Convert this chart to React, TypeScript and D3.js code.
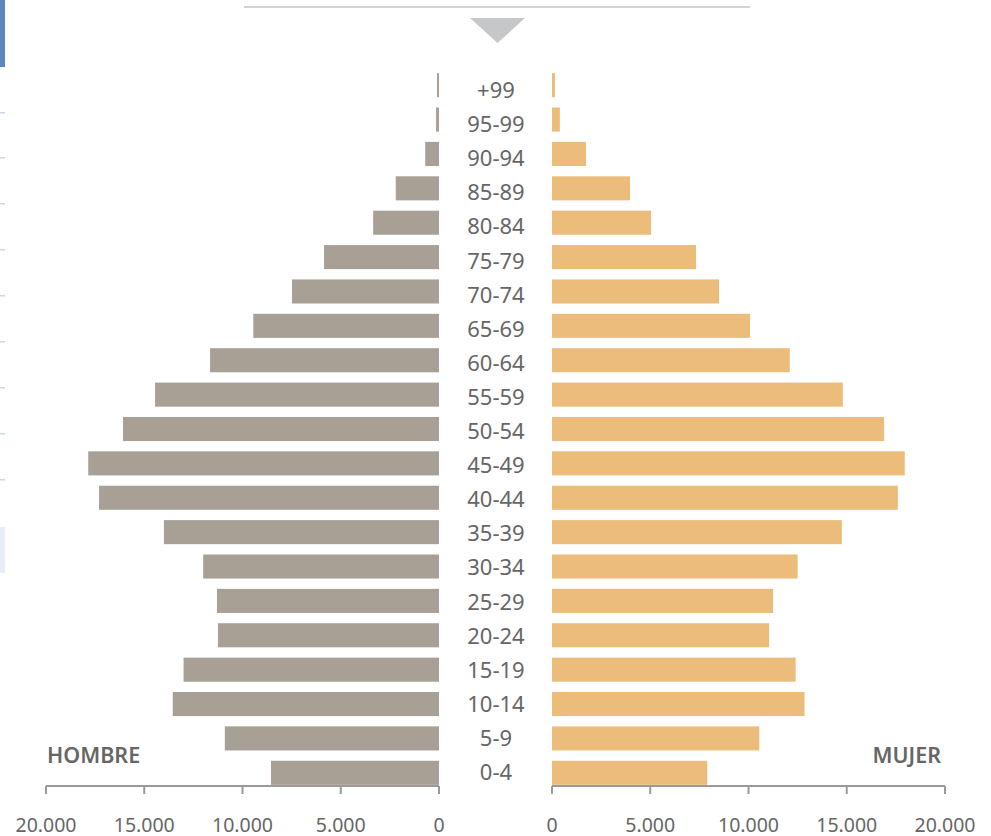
import React from "react";
import * as d3 from "d3";

const ageGroups = ["+99","95-99","90-94","85-89","80-84","75-79","70-74","65-69","60-64","55-59","50-54","45-49","40-44","35-39","30-34","25-29","20-24","15-19","10-14","5-9","0-4"];
const hombre = [100,150,700,2200,3350,5850,7480,9450,11650,14450,16080,17850,17300,14000,12000,11300,11250,13000,13550,10900,8550];
const mujer = [150,400,1730,3970,5040,7330,8500,10080,12100,14800,16900,17950,17600,14750,12500,11250,11050,12400,12850,10550,7900];
const tickValues = [0,5000,10000,15000,20000];
const leftMarks = [113,158,204,250,296,342,388,434,480];

const W = 991, H = 836;
const FONT = "'Noto Sans', 'Open Sans', sans-serif";
const fmt = (v: number) => d3.format(",")(v).replace(/,/g, ".");

export default function App() {
  const y = d3.scaleBand<string>().domain(ageGroups).range([68, 790]).paddingInner(0.3).paddingOuter(0.15);
  const yLab = d3.scalePoint<string>().domain(ageGroups).range([90, 772]);
  const xL = d3.scaleLinear().domain([0, 20000]).range([439, 46]);
  const xR = d3.scaleLinear().domain([0, 20000]).range([552, 945]);
  const axisY = 786;
  const axisColor = "#9a9a9a";
  const textColor = "#666";
  return (
    <svg width={W} height={H} style={{ position: "absolute", left: 0, top: 0, background: "#fff" }}>
      <rect x={0} y={0} width={5} height={67} fill="#5b87bd" />
      {leftMarks.map((m, i) => (
        <rect key={i} x={0} y={m - 1} width={5} height={1.5} fill="#c9d8ea" />
      ))}
      <rect x={0} y={527} width={5} height={46} fill="#e6edf6" />
      <line x1={244} x2={750} y1={7} y2={7} stroke="#aaa" strokeWidth={1.2} />
      <path d="M470,18 L525,18 L497.5,43 Z" fill="#c6c7c9" />
      {ageGroups.map((g, i) => (
        <g key={g}>
          <rect x={xL(hombre[i])} y={y(g)} width={xL(0) - xL(hombre[i])} height={y.bandwidth()} fill="#a89f95" />
          <rect x={xR(0)} y={y(g)} width={xR(mujer[i]) - xR(0)} height={y.bandwidth()} fill="#ecbc7a" />
          <text x={496} y={(yLab(g) as number) + 8} textAnchor="middle" fontFamily={FONT} fontSize={22} fill={textColor}>{g}</text>
        </g>
      ))}
      <line x1={xL(20000)} x2={xL(0)} y1={axisY} y2={axisY} stroke={axisColor} strokeWidth={2} />
      <line x1={xR(0)} x2={xR(20000)} y1={axisY} y2={axisY} stroke={axisColor} strokeWidth={2} />
      {tickValues.map((t) => (
        <g key={"l" + t}>
          <line x1={xL(t)} x2={xL(t)} y1={axisY} y2={axisY + 8} stroke={axisColor} strokeWidth={2} />
          <text x={xL(t)} y={832} textAnchor="middle" fontFamily={FONT} fontSize={19.5} fill={textColor}>{fmt(t)}</text>
          <line x1={xR(t)} x2={xR(t)} y1={axisY} y2={axisY + 8} stroke={axisColor} strokeWidth={2} />
          <text x={xR(t)} y={832} textAnchor="middle" fontFamily={FONT} fontSize={19.5} fill={textColor}>{fmt(t)}</text>
        </g>
      ))}
      <text x={47} y={763} fontFamily={FONT} fontSize={21.5} fontWeight={600} fill={textColor}>HOMBRE</text>
      <text x={941} y={763} textAnchor="end" fontFamily={FONT} fontSize={21.5} fontWeight={600} fill={textColor}>MUJER</text>
    </svg>
  );
}
